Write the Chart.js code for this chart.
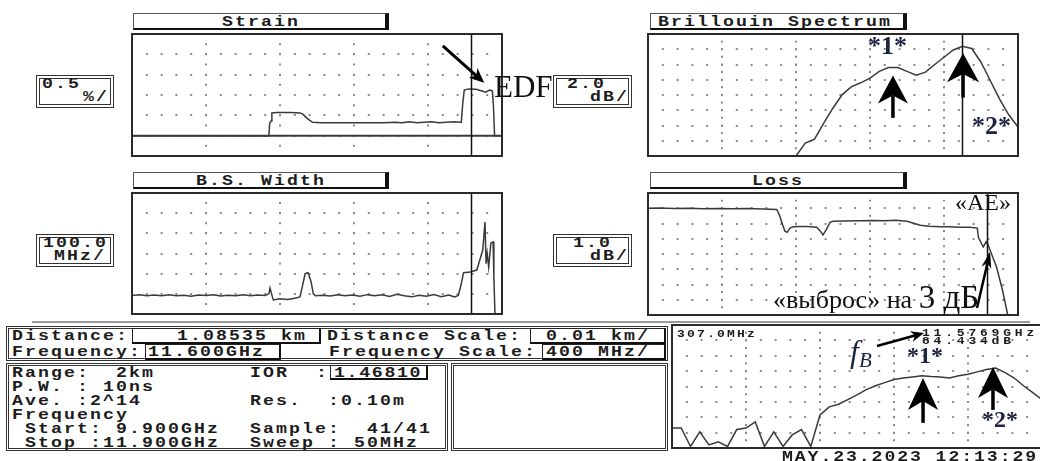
<!DOCTYPE html>
<html>
<head>
<meta charset="utf-8">
<script src="https://cdn.jsdelivr.net/npm/chart.js@4.4.1/dist/chart.umd.min.js"></script>
<style>
html, body { margin: 0; padding: 0; background: #fff; }
body { width: 1040px; height: 461px; position: relative; overflow: hidden; }
canvas { position: absolute; }
.box { position: absolute; box-sizing: border-box; }
.mono { position: absolute; font-family: 'Liberation Mono', monospace; font-weight: bold; white-space: pre; line-height: 1; transform-origin: 0 0; color: #1c1c1c; }
.serif { position: absolute; font-family: 'Liberation Serif', serif; white-space: pre; line-height: 1; color: #111; }
</style>
</head>
<body>
<script>
// ---- data ----
// Strain trace, distance in m
const strainDist = [1039.5, 1058.0, 1058.1, 1058.3, 1058.4, 1059.0, 1061.0, 1062.2, 1062.6, 1063.2, 1063.9, 1065.0, 1068.0, 1071.0, 1073.5, 1075.0, 1076.0, 1077.0, 1078.0, 1079.0, 1080.0, 1081.0, 1082.0, 1083.0, 1084.0, 1084.2, 1084.4, 1085.0, 1086.0, 1086.8, 1087.3, 1087.8, 1088.2, 1088.35, 1088.5, 1089.5];
const strainPct = [0, 0, 0.30, 0.36, 0.56, 0.57, 0.57, 0.56, 0.53, 0.42, 0.33, 0.32, 0.32, 0.32, 0.32, 0.33, 0.32, 0.34, 0.32, 0.33, 0.34, 0.32, 0.33, 0.34, 0.33, 0.80, 1.12, 1.15, 1.14, 1.10, 1.07, 1.12, 1.10, 0.70, 0, 0];

// B.S. width trace
const bswDist = [1039.5, 1040.5, 1041.5, 1042.5, 1043.5, 1044.5, 1045.5, 1046.5, 1047.5, 1048.5, 1049.5, 1050.5, 1051.5, 1052.5, 1053.5, 1054.5, 1055.5, 1056.5, 1057.5, 1058.0, 1058.15, 1058.4, 1058.6, 1059.5, 1060.5, 1061.5, 1062.2, 1062.6, 1062.9, 1063.3, 1063.7, 1064.0, 1064.3, 1065.3, 1066.3, 1067.3, 1068.3, 1069.3, 1070.3, 1071.3, 1072.3, 1073.3, 1074.3, 1075.3, 1076.3, 1077.3, 1078.3, 1079.3, 1080.3, 1081.3, 1082.3, 1083.1, 1083.6, 1084.0, 1084.3, 1085.2, 1086.1, 1086.5, 1086.9, 1087.2, 1087.35, 1087.5, 1087.7, 1088.0, 1088.3, 1088.4, 1088.55, 1089.5];
const bswMHz = [92, 95, 90, 94, 91, 96, 90, 93, 88, 94, 92, 95, 89, 93, 91, 96, 90, 94, 92, 100, 129, 95, 70, 75, 72, 78, 85, 150, 200, 205, 160, 100, 90, 93, 89, 95, 91, 94, 88, 96, 90, 95, 87, 98, 90, 85, 93, 88, 96, 86, 94, 85, 92, 150, 205, 208, 218, 268, 317, 456, 250, 300, 233, 352, 357, 183, 0, 0];

// Loss trace
const lossDist = [1039.5, 1041, 1043, 1045, 1047, 1049, 1051, 1053, 1055, 1056.9, 1057.3, 1057.7, 1058.0, 1058.3, 1058.7, 1059.1, 1060, 1061, 1062.3, 1062.8, 1063.15, 1063.6, 1064.1, 1064.5, 1066, 1068, 1070, 1071.5, 1073, 1074.5, 1075.5, 1076.3, 1077.5, 1079, 1080.3, 1081.5, 1083, 1084.0, 1084.15, 1084.8, 1085.2, 1085.45, 1086.6, 1087.4, 1088.2];
const lossDb = [-1.00, -0.98, -1.02, -1.00, -1.03, -1.01, -1.04, -1.02, -1.05, -1.08, -1.5, -2.1, -2.5, -2.58, -2.3, -2.22, -2.2, -2.2, -2.25, -2.5, -2.75, -2.4, -1.92, -1.86, -1.84, -1.82, -1.80, -1.82, -1.78, -1.85, -2.0, -2.12, -2.18, -2.22, -2.22, -2.25, -2.24, -2.3, -2.9, -3.54, -3.2, -3.4, -4.85, -6.36, -8.2];

// Brillouin spectra, 41 sweep points (GHz)
const specFreq = [9.90, 9.95, 10.00, 10.05, 10.10, 10.15, 10.20, 10.25, 10.30, 10.35, 10.40, 10.45, 10.50, 10.55, 10.60, 10.65, 10.70, 10.75, 10.80, 10.85, 10.90, 10.95, 11.00, 11.05, 11.10, 11.15, 11.20, 11.25, 11.30, 11.35, 11.40, 11.45, 11.50, 11.55, 11.60, 11.65, 11.70, 11.75, 11.80, 11.85, 11.90];
const specDb = [70, 70, 70, 70, 70, 70, 70, 70, 70, 70, 70, 70, 70, 70, 70, 70, 70, 71.7, 72.2, 74.3, 76.3, 78.05, 79.1, 79.6, 80.2, 81.1, 81.6, 81.6, 81.1, 80.6, 81.0, 82.0, 82.95, 83.9, 84.4, 84.1, 82.3, 79.9, 77.5, 75.4, 73.8];
const peakDb = [76.6, 76.6, 74.2, 76.1, 74.4, 74.8, 74.2, 76.4, 76.6, 77.4, 74.2, 76.1, 74.2, 75.7, 76.4, 74.2, 78.3, 79.35, 79.7, 80.3, 80.9, 81.6, 82.1, 82.5, 82.9, 83.1, 83.25, 83.4, 83.3, 83.25, 83.1, 83.4, 83.6, 83.9, 84.2, 84.4, 83.8, 83.1, 82.1, 81.2, 80.3];

const distRange = [1039.5, 1089.5];
const cursorDist = 1085.35;
const freqRange = [9.9, 11.9];
const cursorFreq = 11.6;

// ---- helpers ----
function addBox(x, y, w, h, css) {
  const d = document.createElement('div');
  d.className = 'box';
  Object.assign(d.style, { left: x + 'px', top: y + 'px', width: w + 'px', height: h + 'px' }, css);
  document.body.appendChild(d);
}

function mono(text, x, base, size = 14, pitch = 13, sx = 1.3) {
  const d = document.createElement('div');
  d.className = 'mono';
  d.textContent = text;
  Object.assign(d.style, {
    left: x + 'px', top: (base - 0.7665 * size) + 'px', fontSize: size + 'px',
    letterSpacing: (pitch / sx - 0.6 * size) + 'px', transform: 'scaleX(' + sx + ')'
  });
  document.body.appendChild(d);
}

function serif(html, x, base, size, css) {
  const d = document.createElement('div');
  d.className = 'serif';
  d.innerHTML = html;
  Object.assign(d.style, { left: x + 'px', top: (base - 0.8375 * size) + 'px', fontSize: size + 'px' }, css || {});
  document.body.appendChild(d);
}

function drawArrow(ctx, x1, y1, x2, y2, a) {
  const len = Math.hypot(x2 - x1, y2 - y1);
  const ux = (x2 - x1) / len, uy = (y2 - y1) / len;
  const nx = -uy, ny = ux;
  const bx = x2 - ux * a.hl, by = y2 - uy * a.hl;
  const kx = x2 - ux * a.hl * 0.72, ky = y2 - uy * a.hl * 0.72;
  ctx.strokeStyle = '#000';
  ctx.fillStyle = '#000';
  ctx.lineWidth = a.w;
  ctx.beginPath(); ctx.moveTo(x1, y1); ctx.lineTo(kx, ky); ctx.stroke();
  ctx.beginPath();
  ctx.moveTo(x2, y2);
  ctx.lineTo(bx + nx * a.hw, by + ny * a.hw);
  ctx.lineTo(kx, ky);
  ctx.lineTo(bx - nx * a.hw, by - ny * a.hw);
  ctx.closePath(); ctx.fill();
}

// dotted graticule on the scale divisions, then cursor, arrows and frame
const decorPlugin = {
  id: 'decor',
  beforeDatasetsDraw(chart) {
    const { ctx, chartArea: a, scales: { x, y } } = chart;
    const xs = x.ticks.map(t => Math.round(x.getPixelForValue(t.value)));
    const ys = y.ticks.map(t => Math.round(y.getPixelForValue(t.value)));
    const hStep = (a.right - a.left) / 25;
    const vStep = (a.bottom - a.top) / (ys.length - 1) / 2;
    ctx.save();
    ctx.strokeStyle = '#8a8a8a';
    ctx.lineWidth = 2;
    ctx.setLineDash([2, vStep - 2]);
    xs.forEach(px => { ctx.beginPath(); ctx.moveTo(px, a.top - 1); ctx.lineTo(px, a.bottom); ctx.stroke(); });
    ctx.setLineDash([2, hStep - 2]);
    ys.forEach(py => { ctx.beginPath(); ctx.moveTo(a.left - 1, py); ctx.lineTo(a.right, py); ctx.stroke(); });
    ctx.restore();
  },
  afterDatasetsDraw(chart, args, opts) {
    const { ctx, chartArea: a, scales: { x, y } } = chart;
    ctx.save();
    if (opts.cursor != null) {
      const cx = Math.round(x.getPixelForValue(opts.cursor)) + 0.5;
      ctx.strokeStyle = '#111'; ctx.lineWidth = 1.5;
      ctx.beginPath(); ctx.moveTo(cx, a.top); ctx.lineTo(cx, a.bottom); ctx.stroke();
    }
    (opts.arrows || []).forEach(ar => drawArrow(ctx,
      x.getPixelForValue(ar.from[0]), y.getPixelForValue(ar.from[1]),
      x.getPixelForValue(ar.to[0]), y.getPixelForValue(ar.to[1]), ar));
    ctx.strokeStyle = '#2a2a2a'; ctx.lineWidth = 2;
    ctx.strokeRect(a.left, a.top, a.right - a.left, a.bottom - a.top);
    ctx.restore();
  }
};

function axis(range, divs) {
  return {
    type: 'linear', min: range[0], max: range[1],
    afterBuildTicks: s => {
      const t = [];
      for (let i = 0; i <= divs; i++) t.push({ value: range[0] + (range[1] - range[0]) * i / divs });
      s.ticks = t;
    },
    ticks: { display: false },
    grid: { display: false, drawTicks: false },
    border: { display: false }
  };
}

function trace(xs, ys, w) {
  return {
    data: xs.map((v, i) => ({ x: v, y: ys[i] })),
    borderColor: '#3a3a3a', borderWidth: w || 1.5, pointRadius: 0, tension: 0, fill: false
  };
}

function panel(r, xr, yr, ydivs, datasets, decor) {
  const P = 4;
  const c = document.createElement('canvas');
  c.width = r.w + 2 * P; c.height = r.h + 2 * P;
  c.style.left = (r.l - P) + 'px'; c.style.top = (r.t - P) + 'px';
  document.body.appendChild(c);
  return new Chart(c, {
    type: 'line',
    data: { datasets: datasets },
    options: {
      responsive: false, animation: false, events: [],
      layout: { padding: P },
      plugins: { legend: { display: false }, tooltip: { enabled: false }, decor: decor },
      scales: { x: axis(xr, 5), y: axis(yr, ydivs) }
    },
    plugins: [decorPlugin]
  });
}

// ---- plots ----
panel({ l: 132, t: 34, w: 370, h: 122 }, distRange, [-0.5, 2.5], 6, [
  trace(distRange, [0, 0], 2),
  trace(strainDist, strainPct)
], { cursor: cursorDist, arrows: [{ from: [1081.5, 2.21], to: [1087.1, 1.30], w: 3, hl: 15, hw: 6.5 }] });

panel({ l: 648, t: 34, w: 370, h: 122 }, freqRange, [70, 86], 8, [
  trace(specFreq, specDb)
], { cursor: cursorFreq, arrows: [
  { from: [11.224, 75.0], to: [11.224, 80.57], w: 3.5, hl: 28, hw: 15 },
  { from: [11.603, 77.66], to: [11.603, 83.48], w: 3.5, hl: 29, hw: 16 }
] });

panel({ l: 132, t: 193, w: 370, h: 121 }, distRange, [0, 600], 6, [
  trace(bswDist, bswMHz)
], { cursor: cursorDist });

panel({ l: 648, t: 193, w: 370, h: 122 }, distRange, [-8, 0], 8, [
  trace(lossDist, lossDb)
], { cursor: cursorDist, arrows: [{ from: [1083.96, -7.54], to: [1085.72, -3.87], w: 2.5, hl: 16, hw: 5 }] });

panel({ l: 672, t: 325, w: 370, h: 123 }, freqRange, [74, 90], 8, [
  trace(specFreq, peakDb)
], { arrows: [
  { from: [11.008, 87.27], to: [11.262, 88.96], w: 2.5, hl: 13, hw: 5.5 },
  { from: [11.257, 77.27], to: [11.257, 83.12], w: 3.5, hl: 32, hw: 15 },
  { from: [11.635, 78.96], to: [11.635, 84.55], w: 3.5, hl: 31, hw: 15 }
] });

// ---- title boxes ----
const titleCss = { border: '1px solid #555', borderRight: '4px solid #111', borderBottom: '2px solid #111' };
addBox(133, 13, 256, 17, titleCss);
addBox(650, 13, 257, 17, titleCss);
addBox(133, 172, 256, 17, titleCss);
addBox(650, 172, 257, 17, titleCss);
mono('Strain', 222, 26);
mono('Brillouin Spectrum', 658, 26);
mono('B.S. Width', 196, 185);
mono('Loss', 752, 185);

// ---- scale boxes ----
const scaleCss = { border: '4px double #333' };
addBox(36, 75, 78, 33, scaleCss);
addBox(553, 75, 79, 33, scaleCss);
addBox(36, 234, 78, 33, scaleCss);
addBox(553, 234, 79, 33, scaleCss);
mono('0.5', 42, 88); mono('%/', 83, 101);
mono('2.0', 567, 88); mono('dB/', 590, 101);
mono('100.0', 43, 247); mono('MHz/', 54, 260);
mono('1.0', 573, 247); mono('dB/', 590, 260);

// ---- separator ----
addBox(32, 321, 998, 2, { background: '#9a9a9a' });

// ---- info area ----
const frameCss = { border: '3px double #333' };
const valCss = { border: '1px solid #222', borderRight: '2px solid #111', borderBottom: '2px solid #111' };
addBox(6, 326, 662, 35, frameCss);
addBox(6, 363, 442, 88, frameCss);
addBox(451, 363, 217, 88, frameCss);
addBox(132, 328, 189, 16, valCss);
addBox(530, 328, 136, 16, valCss);
addBox(145, 344, 136, 16, valCss);
addBox(542, 344, 124, 16, valCss);
addBox(330, 365, 98, 15, valCss);

mono('Distance:', 12, 340);
mono('1.08535 km', 177, 340);
mono('Distance Scale:', 327, 340);
mono('0.01 km/', 546, 340);
mono('Frequency:', 12, 356);
mono('11.600GHz', 148, 356);
mono('Frequency Scale:', 329, 356);
mono('400 MHz/', 546, 356);

mono('Range:  2km', 12, 377);
mono('IOR', 250, 377);
mono(':', 316, 377);
mono('1.46810', 334, 377, 14, 12.6);
mono('P.W. : 10ns', 12, 391);
mono('Ave. :2^14', 12, 405);
mono('Res.  :0.10m', 250, 405);
mono('Frequency', 12, 419);
mono(' Start: 9.900GHz', 12, 433);
mono('Sample:  41/41', 250, 433);
mono(' Stop :11.900GHz', 12, 447);
mono('Sweep : 50MHz', 250, 447);

// ---- readouts of the lower spectrum ----
mono('307.0MHz', 677, 338, 10, 10, 1.3);
mono('11.5769GHz', 922, 337, 10, 11.6, 1.3);
mono('84.434dB', 922, 345, 10, 11.6, 1.3);
mono('MAY.23.2023 12:13:29', 782, 461, 14, 12.8, 1.3);

// ---- annotations ----
const navy = { color: '#1e2440', fontWeight: 'bold' };
serif('EDF', 494, 97, 31);
serif('*1*', 868, 55, 26, navy);
serif('*2*', 972, 135, 26, navy);
serif('«AE»', 955, 210, 24);
serif('«выброс» на <span style="font-size:33px">3 дБ</span>', 773, 303, 26);
serif('<i>f</i><i style="font-size:21px;position:relative;top:5px">B</i>', 850, 362, 32, { color: '#1e2440' });
serif('*1*', 907, 363, 24, navy);
serif('*2*', 982, 427, 24, navy);
</script>
</body>
</html>
